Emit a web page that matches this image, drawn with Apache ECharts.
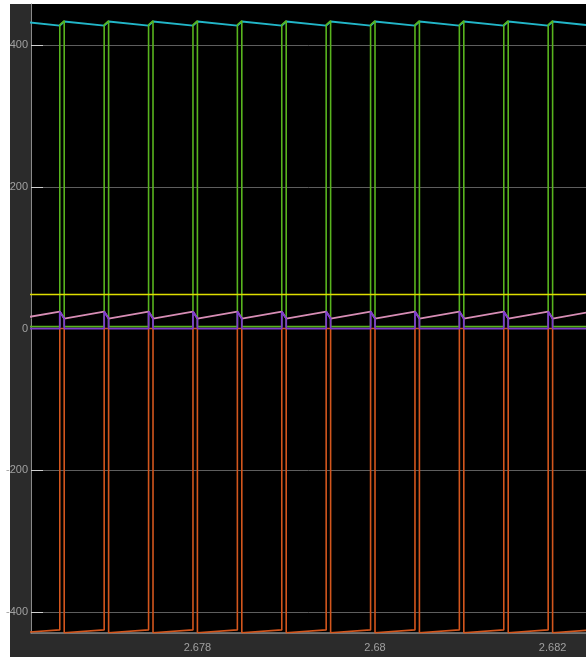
<!DOCTYPE html>
<html>
<head>
<meta charset="utf-8">
<script src="https://cdn.jsdelivr.net/npm/echarts@6/dist/echarts.min.js"></script>
<style>
  html, body { margin: 0; padding: 0; background: #ffffff; }
  #panel { position: absolute; left: 10px; top: 4px; width: 576px; height: 653px; background: #2b2b2b; }
  #scope { position: absolute; left: 0; top: 0; width: 586px; height: 657px; }
</style>
</head>
<body>
<div id="panel"></div>
<div id="scope"></div>
<script>
// Boost converter waveforms, 0.5 ms switching period.
// Switch turns on at tOn[k] and off at tOff[k]; the off-interval runs tOff[k] -> tOn[k+1].
const tOn  = [2.6760, 2.6765, 2.6770, 2.6775, 2.6780, 2.6785, 2.6790, 2.6795, 2.6800, 2.6805, 2.6810, 2.6815, 2.6820, 2.6825];
const tOff = [2.67645, 2.67695, 2.67745, 2.67795, 2.67845, 2.67895, 2.67945, 2.67995, 2.68045, 2.68095, 2.68145, 2.68195, 2.68245];

// Output voltage (V): peak when the switch turns on, valley when it turns off
const vOutAtOn  = [433.0, 433.0, 433.0, 433.0, 433.0, 433.0, 433.0, 433.0, 433.0, 433.0, 433.0, 433.0, 433.0, 433.0];
const vOutAtOff = [427.3, 427.3, 427.3, 427.3, 427.3, 427.3, 427.3, 427.3, 427.3, 427.3, 427.3, 427.3, 427.3];

// Switch voltage (V): saturation level while on, output + diode drop while off
const vSwOnState  = [2.8, 2.8, 2.8, 2.8, 2.8, 2.8, 2.8, 2.8, 2.8, 2.8, 2.8, 2.8, 2.8, 2.8];
const vSwOffStart = [428.4, 428.4, 428.4, 428.4, 428.4, 428.4, 428.4, 428.4, 428.4, 428.4, 428.4, 428.4, 428.4];
const vSwOffEnd   = [434.0, 434.0, 434.0, 434.0, 434.0, 434.0, 434.0, 434.0, 434.0, 434.0, 434.0, 434.0, 434.0];

// Diode voltage (V): reverse-biased while the switch is on, ~0 while conducting
const vDAtOn      = [-429.0, -429.0, -429.0, -429.0, -429.0, -429.0, -429.0, -429.0, -429.0, -429.0, -429.0, -429.0, -429.0, -429.0];
const vDAtOff     = [-425.0, -425.0, -425.0, -425.0, -425.0, -425.0, -425.0, -425.0, -425.0, -425.0, -425.0, -425.0, -425.0];
const vDConducting = [0, 0, 0, 0, 0, 0, 0, 0, 0, 0, 0, 0, 0];

// Inductor current (A): valley at turn-on, peak at turn-off
const iLAtOn  = [14.1, 14.1, 14.1, 14.1, 14.1, 14.1, 14.1, 14.1, 14.1, 14.1, 14.1, 14.1, 14.1, 14.1];
const iLAtOff = [24.0, 24.0, 24.0, 24.0, 24.0, 24.0, 24.0, 24.0, 24.0, 24.0, 24.0, 24.0, 24.0];

// Input voltage (V)
const vInTime = [2.6760, 2.6825];
const vIn     = [48, 48];

// Axis limits and tick labels
const xRange = [2.676126, 2.682376];
const yRange = [-429.4, 457.8];
const xTicks = [2.678, 2.68, 2.682];
const yTicks = [-400, -200, 0, 200, 400];

// ---- build polylines from the switching instants ----
const nPer = tOff.length;
const outV = [], swV = [], dV = [], iL = [], iD = [];
for (let k = 0; k < nPer; k++) {
  outV.push([tOn[k], vOutAtOn[k]], [tOff[k], vOutAtOff[k]]);
  swV.push([tOn[k], vSwOnState[k]], [tOff[k], vSwOnState[k]], [tOff[k], vSwOffStart[k]], [tOn[k + 1], vSwOffEnd[k]], [tOn[k + 1], vSwOnState[k + 1]]);
  dV.push([tOn[k], vDAtOn[k]], [tOff[k], vDAtOff[k]], [tOff[k], vDConducting[k]], [tOn[k + 1], vDConducting[k]]);
  iL.push([tOn[k], iLAtOn[k]], [tOff[k], iLAtOff[k]]);
  iD.push([tOn[k], 0], [tOff[k], 0], [tOff[k], iLAtOff[k]], [tOn[k + 1], iLAtOn[k + 1]], [tOn[k + 1], 0]);
}
outV.push([tOn[nPer], vOutAtOn[nPer]]);
dV.push([tOn[nPer], vDAtOn[nPer]]);
iL.push([tOn[nPer], iLAtOn[nPer]]);
const vInLine = vInTime.map((t, i) => [t, vIn[i]]);

function trace(name, data, color, width) {
  return {
    name, type: 'line', data, showSymbol: false, animation: false, clip: true,
    lineStyle: { color, width }, emphasis: { disabled: true }
  };
}

const labelFont = { color: '#a0a0a0', fontSize: 11, fontFamily: '"Liberation Sans Narrow", "Liberation Sans", Arial, sans-serif' };

const chart = echarts.init(document.getElementById('scope'), null, { renderer: 'canvas' });
chart.setOption({
  backgroundColor: 'transparent',
  animation: false,
  grid: {
    left: 31, top: 4, right: 0, bottom: 24,
    containLabel: false, outerBoundsMode: 'none',
    show: true, backgroundColor: '#000000', borderWidth: 0
  },
  xAxis: {
    type: 'value', min: xRange[0], max: xRange[1],
    axisLine: { show: true, onZero: false, lineStyle: { color: '#8a8a8a', width: 1.5 } },
    axisTick: { show: false, customValues: xTicks },
    axisLabel: Object.assign({ customValues: xTicks, margin: 9, formatter: v => String(+v.toFixed(3)) }, labelFont),
    splitLine: { show: false }
  },
  yAxis: {
    type: 'value', min: yRange[0], max: yRange[1],
    axisLine: { show: true, lineStyle: { color: '#8a8a8a', width: 1 } },
    axisTick: { show: true, inside: true, length: 12, customValues: yTicks, lineStyle: { color: '#d0d0d0', width: 1 } },
    axisLabel: Object.assign({ customValues: yTicks, margin: 3 }, labelFont),
    splitLine: { show: true, lineStyle: { color: '#5e5e5e', width: 1 } }
  },
  series: [
    trace('Vout', outV, '#22b6c8', 2),
    trace('Vsw', swV, '#58b41e', 1.6),
    trace('Vd', dV, '#d3561d', 1.6),
    trace('iL', iL, '#d78db5', 1.8),
    trace('iD', iD, '#7e3ccc', 1.8),
    trace('Vin', vInLine, '#dede00', 1.6)
  ]
});
</script>
</body>
</html>
